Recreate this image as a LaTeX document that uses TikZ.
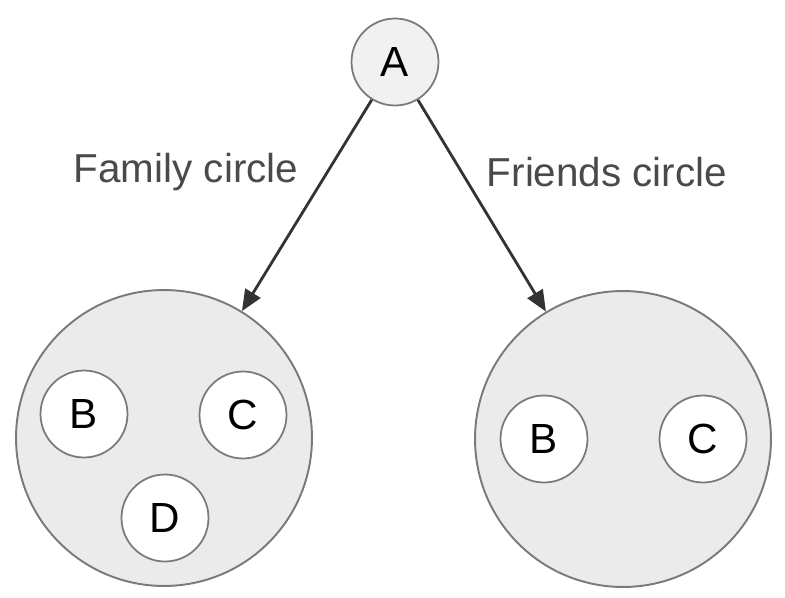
\documentclass[tikz,border=0pt]{standalone}
\usepackage{fontspec}
\setmainfont{Liberation Sans}
\usetikzlibrary{arrows.meta, positioning}
\definecolor{ringfill} {HTML}{EBEBEB}
\definecolor{ringline} {HTML}{7A7A7A}
\definecolor{labelgray}{HTML}{4A4A4A}
\definecolor{linkgray} {HTML}{333333}

\tikzset{
  ring/.style={circle, draw=ringline, line width=1.1pt, fill=ringfill,
               minimum size=5.92cm, inner sep=0pt},
  member/.style={circle, draw=ringline, line width=1pt, fill=white,
                 minimum size=1.74cm, inner sep=0pt, font=\fontsize{24}{26}\selectfont},
  link/.style={draw=linkgray, line width=1.6pt, -{Triangle[length=12pt, width=10pt]}},
  caption/.style={text=labelgray, font=\fontsize{23}{26}\selectfont}
}

\begin{document}
\begin{tikzpicture}[x=0.02cm, y=-0.02cm]
  \useasboundingbox (0,0) rectangle (785,598);
  \node[member, fill=ringfill!70!white] (A) at (395,62) {A};
  \node[ring] (family)  at (164,438) {};
  \node[ring] (friends) at (623,439) {};
  % family circle members
  \node[member] (famB) at (84,414)  {B};
  \node[member] (famC) at (243,415) {C};
  \node[member] (famD) at (165,518) {D};
  % friends circle members
  \node[member] (friB) at (544,439) {B};
  \node[member] (friC) at (703,439) {C};
  \draw[link] (A) -- (family);
  \draw[link] (A) -- (friends);
  \node[caption] (famlabel) at (186,172) {Family circle};
  \node[caption] (frilabel) at (607,172) {Friends circle};
\end{tikzpicture}
\end{document}
